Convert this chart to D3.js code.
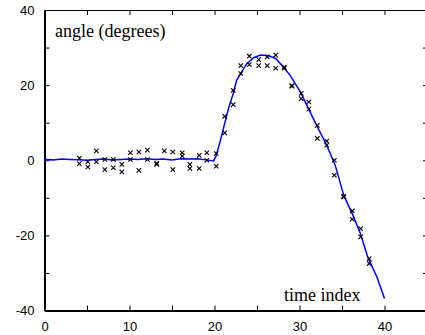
<!DOCTYPE html>
<html>
<head>
<meta charset="utf-8">
<script src="https://cdn.jsdelivr.net/npm/d3@7"></script>
<style>
  body { margin: 0; background: #fff; }
  svg { display: block; }
</style>
</head>
<body>
<div id="chart"></div>
<script>
// fitted curve (blue line)
const lineT = [0, 1, 2, 3, 4, 5, 6, 7, 8, 9, 10, 11, 12, 13, 14, 15, 16, 17, 18, 19, 19.9,
  20.2, 20.7, 21.2, 21.7, 22.2, 22.6, 23.2, 23.8, 24.6, 25.4, 26.4, 27.2, 28.1, 28.9,
  30.1, 31.0, 31.9, 33.2, 34.2, 35.2, 36.2, 37.1, 38.1, 39.1, 40.0];
const lineV = [0.2, 0.1, 0.3, 0.2, 0.1, 0.0, 0.2, 0.3, 0.1, 0.2, 0.3, 0.2, 0.4, 0.2, 0.3, 0.1, 0.4, 0.3, 0.4, 0.1, -0.2,
  1.3, 5.3, 9.8, 14.2, 17.7, 21.3, 23.5, 25.7, 27.3, 28.0, 27.8, 27.1, 24.8, 22.6,
  18.2, 14.0, 9.8, 4.0, -1.3, -9.3, -14.2, -19.1, -26.2, -31.0, -36.8];

// measurements (x markers)
const obsT = [4.1, 4.1, 5.1, 5.1, 6.1, 6.1, 7.1, 7.1, 8.1, 8.1, 9.1, 9.1, 10.1, 10.1,
  11.1, 11.1, 12.1, 12.1, 13.2, 13.2, 14.1, 15.1, 15.1, 16.2, 16.2, 17.1, 17.1,
  18.2, 18.2, 19.1, 19.1, 20.2, 20.2, 21.2, 21.2, 22.2, 22.2, 23.1, 23.1, 24.1, 24.1,
  25.2, 25.2, 26.2, 26.2, 27.2, 27.2, 28.2, 28.2, 29.1, 29.1, 30.2, 30.2, 31.1, 31.1,
  32.1, 32.1, 33.2, 33.2, 34.1, 34.1, 35.2, 35.2, 36.2, 36.2, 37.2, 37.2, 38.2, 38.2];
const obsV = [0.6, -0.9, -0.4, -1.8, 2.5, -0.4, 0.2, -2.5, 0.2, -2.0, -1.1, -3.1, 2.0, 0.2,
  2.2, -2.7, 2.7, 0.2, -1.1, -0.8, 2.5, 2.2, -2.5, 2.0, 1.1, -1.1, -2.2,
  1.3, -2.2, 2.0, 0.0, 1.8, -1.6, 11.7, 7.3, 18.6, 14.8, 25.2, 23.1, 27.7, 25.5,
  26.8, 25.2, 27.5, 25.2, 28.0, 24.5, 24.8, 24.5, 19.9, 19.7, 17.8, 16.4, 15.5, 13.6,
  9.3, 5.8, 5.1, 4.0, 0.0, -4.0, -9.6, -9.8, -13.5, -15.7, -18.2, -20.4, -26.2, -27.5];

const xTicks = [0, 5, 10, 15, 20, 25, 30, 35, 40, 45];
const yTicks = [-40, -30, -20, -10, 0, 10, 20, 30, 40];
const xLabels = [0, 10, 20, 30, 40];
const yLabels = [-40, -20, 0, 20, 40];

const W = 425, H = 335;
const svg = d3.select('#chart').append('svg').attr('width', W).attr('height', H);

const x = d3.scaleLinear().domain([0, 45]).range([44.5, 427]);
const y = d3.scaleLinear().domain([-40, 40]).range([310.5, 10]);

const tickFont = (g) => g.selectAll('text')
  .attr('font-family', 'Liberation Sans, Arial, sans-serif')
  .attr('font-size', 13)
  .attr('fill', '#000');

// top + right frame, ticks only
svg.append('g')
  .attr('transform', `translate(0,${y(40)})`)
  .call(d3.axisTop(x).tickValues(xTicks).tickSizeInner(-5).tickSizeOuter(0).tickFormat(''))
  .call((g) => g.select('.domain').attr('stroke-width', 1));
svg.append('g')
  .attr('transform', `translate(${x(45)},0)`)
  .call(d3.axisRight(y).tickValues(yTicks).tickSizeInner(-4).tickSizeOuter(0).tickFormat(''));

// bottom axis
svg.append('g')
  .attr('transform', `translate(0,${y(-40)})`)
  .call(d3.axisBottom(x).tickValues(xTicks).tickSizeInner(-5).tickSizeOuter(0).tickPadding(11)
    .tickFormat((d) => (xLabels.includes(d) ? d : '')))
  .call((g) => g.select('.domain').attr('stroke-width', 2))
  .call(tickFont);

// left axis
svg.append('g')
  .attr('transform', `translate(${x(0)},0)`)
  .call(d3.axisLeft(y).tickValues(yTicks).tickSizeInner(-5).tickSizeOuter(0).tickPadding(10)
    .tickFormat((d) => (yLabels.includes(d) ? d : '')))
  .call((g) => g.select('.domain').attr('stroke-width', 2))
  .call(tickFont);

// curve
const line = d3.line().x((d) => x(d[0])).y((d) => y(d[1]));
svg.append('path')
  .datum(d3.zip(lineT, lineV))
  .attr('d', line)
  .attr('fill', 'none')
  .attr('stroke', '#0000ff')
  .attr('stroke-width', 1.5);

// x markers
const s = 2.2;
svg.append('g')
  .selectAll('path')
  .data(d3.zip(obsT, obsV))
  .enter()
  .append('path')
  .attr('d', (d) => {
    const px = x(d[0]), py = y(d[1]);
    return `M${px - s},${py - s}L${px + s},${py + s}M${px - s},${py + s}L${px + s},${py - s}`;
  })
  .attr('stroke', '#000')
  .attr('stroke-width', 1.1);

// labels
svg.append('text')
  .attr('x', 55).attr('y', 37)
  .attr('font-family', 'Liberation Serif, Times New Roman, serif')
  .attr('font-size', 18)
  .text('angle (degrees)');
svg.append('text')
  .attr('x', 284).attr('y', 300.5)
  .attr('font-family', 'Liberation Serif, Times New Roman, serif')
  .attr('font-size', 18)
  .text('time index');
</script>
</body>
</html>
